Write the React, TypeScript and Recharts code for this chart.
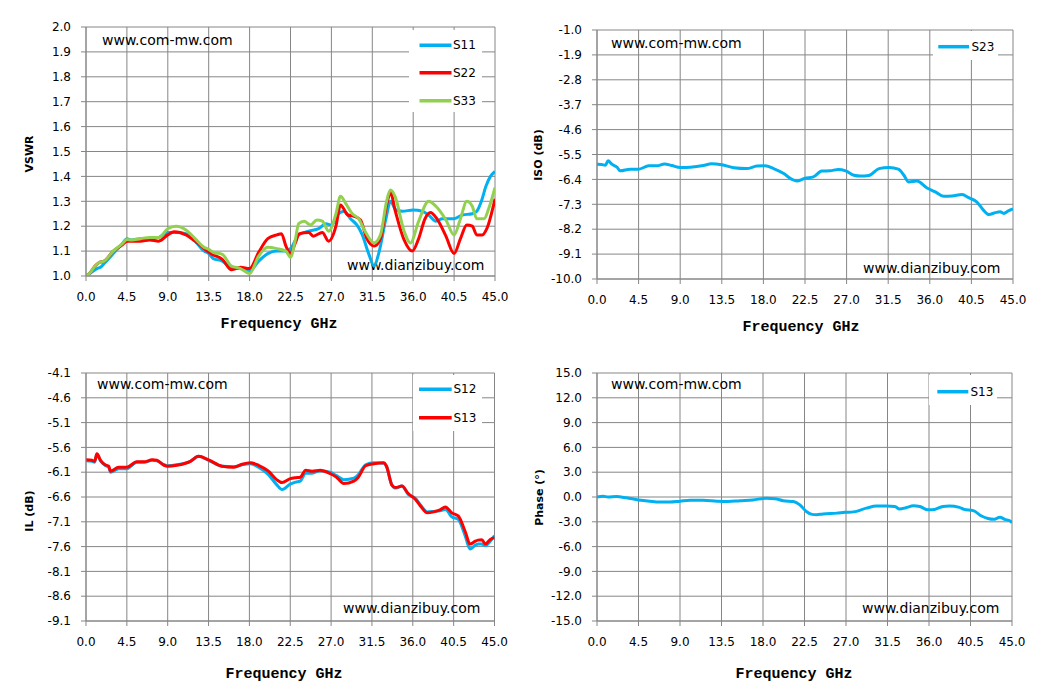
import React from "react";
import { LineChart, Line, XAxis, YAxis, CartesianGrid, Legend } from "recharts";

// fonts / colours picked to match the Excel export
const SANS = '"DejaVu Sans", Verdana, sans-serif';
const MONO = '"Liberation Mono", "Courier New", monospace';
const GRID = "#868686";
const BLUE = "#00b0f0";
const RED = "#ff0000";
const GREEN = "#92d050";

// shared frequency axis
const freqTicks = [0, 4.5, 9, 13.5, 18, 22.5, 27, 31.5, 36, 40.5, 45];

// ---- VSWR ----
const vswrTicks = [1.0, 1.1, 1.2, 1.3, 1.4, 1.5, 1.6, 1.7, 1.8, 1.9, 2.0];
const s11Freq = [0, 0.5, 1.2, 1.6, 2, 3, 4, 4.5, 5, 6, 7, 8, 9, 10, 11, 12, 13, 13.5, 14, 15, 16, 17, 18, 19, 20, 21, 22, 22.5, 23.4, 24.5, 25.6, 26.4, 27, 27.8, 28.4, 29.1, 29.8, 30.4, 31.1, 31.7, 32.2, 33, 33.5, 34.1, 34.8, 36, 37, 37.7, 38.5, 39.2, 40.5, 41.4, 42.5, 43, 43.5, 44, 44.5, 45];
const s11 = [1.0, 1.012, 1.03, 1.035, 1.05, 1.09, 1.13, 1.15, 1.145, 1.15, 1.15, 1.155, 1.175, 1.175, 1.17, 1.14, 1.10, 1.09, 1.07, 1.06, 1.033, 1.03, 1.02, 1.06, 1.09, 1.10, 1.10, 1.11, 1.165, 1.18, 1.19, 1.21, 1.205, 1.25, 1.26, 1.23, 1.205, 1.165, 1.09, 1.04, 1.09, 1.23, 1.30, 1.265, 1.26, 1.265, 1.26, 1.245, 1.22, 1.23, 1.23, 1.245, 1.25, 1.26, 1.30, 1.36, 1.40, 1.42];
const s22Freq = [0, 0.5, 1, 1.5, 2, 3, 4, 4.5, 5, 6, 7, 8, 9, 9.7, 11, 12, 13, 13.5, 14, 15, 16, 16.5, 17, 18, 19, 20, 21, 21.5, 22, 22.5, 23, 23.5, 24.5, 25, 26, 26.7, 27.5, 28, 28.8, 29.5, 30.2, 30.9, 31.7, 32.4, 33.1, 33.5, 34, 35, 35.9, 36.6, 37.3, 37.9, 38.6, 39.6, 40.5, 41.2, 41.9, 42.5, 43, 43.6, 44.1, 45];
const s22 = [1.0, 1.015, 1.04, 1.055, 1.06, 1.10, 1.125, 1.14, 1.14, 1.14, 1.145, 1.14, 1.165, 1.178, 1.165, 1.14, 1.11, 1.096, 1.085, 1.067, 1.025, 1.03, 1.035, 1.03, 1.095, 1.15, 1.165, 1.17, 1.12, 1.09, 1.13, 1.17, 1.175, 1.16, 1.175, 1.14, 1.20, 1.285, 1.245, 1.24, 1.225, 1.15, 1.12, 1.15, 1.29, 1.335, 1.265, 1.145, 1.10, 1.15, 1.23, 1.255, 1.23, 1.16, 1.09, 1.15, 1.205, 1.20, 1.165, 1.165, 1.19, 1.31];
const s33Freq = [0, 0.5, 1, 1.5, 2, 3, 4, 4.5, 5, 6, 7, 8, 9, 9.9, 11, 12, 13, 13.5, 14, 15, 16, 17, 18, 19, 20, 21, 22, 22.5, 23, 23.4, 24, 24.7, 25.4, 26, 26.7, 27.5, 28, 28.6, 29.3, 30, 30.7, 31.7, 32.4, 33.1, 33.5, 34, 35, 35.7, 36.6, 37.7, 38.5, 39.6, 40.5, 41.2, 41.9, 42.5, 43, 43.8, 44.3, 45];
const s33 = [1.0, 1.015, 1.04, 1.055, 1.06, 1.10, 1.13, 1.147, 1.145, 1.15, 1.155, 1.155, 1.19, 1.20, 1.185, 1.15, 1.115, 1.107, 1.095, 1.087, 1.04, 1.03, 1.01, 1.08, 1.115, 1.11, 1.10, 1.075, 1.14, 1.21, 1.22, 1.205, 1.225, 1.22, 1.18, 1.25, 1.32, 1.29, 1.25, 1.23, 1.18, 1.133, 1.165, 1.305, 1.345, 1.32, 1.18, 1.133, 1.22, 1.30, 1.28, 1.225, 1.165, 1.23, 1.30, 1.28, 1.23, 1.23, 1.27, 1.355];

// ---- ISO ----
const isoTicks = [-10, -9.1, -8.2, -7.3, -6.4, -5.5, -4.6, -3.7, -2.8, -1.9, -1.0];
const isoFreq = [0, 0.5, 0.9, 1.2, 1.6, 2.2, 2.5, 3.6, 4.5, 5.6, 6.5, 7.3, 8.1, 9, 10.1, 11.5, 12.4, 13.5, 14.8, 16.2, 17.3, 18.2, 19.1, 20.2, 21.1, 21.6, 22.5, 23.4, 24.3, 25.2, 26.1, 26.9, 27.8, 28.5, 29.4, 30.5, 31.6, 32.6, 33.2, 33.7, 34.6, 35.7, 36.6, 37.5, 38.4, 39.5, 40.2, 41.1, 41.8, 42.4, 43.1, 43.6, 44, 44.5, 45];
const s23 = [-5.85, -5.86, -5.89, -5.73, -5.85, -5.97, -6.09, -6.03, -6.03, -5.91, -5.91, -5.84, -5.9, -5.97, -5.96, -5.9, -5.83, -5.87, -5.98, -6.01, -5.92, -5.91, -6.01, -6.19, -6.4, -6.46, -6.36, -6.31, -6.1, -6.09, -6.04, -6.09, -6.25, -6.28, -6.26, -6.01, -5.97, -6.03, -6.25, -6.49, -6.46, -6.71, -6.85, -7.01, -7.0, -6.95, -7.06, -7.22, -7.51, -7.67, -7.6, -7.57, -7.63, -7.54, -7.47];

// ---- IL ----
const ilTicks = [-9.1, -8.6, -8.1, -7.6, -7.1, -6.6, -6.1, -5.6, -5.1, -4.6, -4.1];
const ilFreq = [0, 0.66, 0.95, 1.2, 1.6, 2.1, 2.5, 2.7, 3.6, 4.5, 5.6, 6.4, 7.3, 7.8, 8.6, 9, 10, 11.5, 12.4, 13.5, 15, 16.3, 17.2, 18.1, 19, 20.1, 21, 21.6, 22.5, 23.1, 23.6, 24.2, 24.9, 25.8, 26.9, 27.6, 28.4, 29.5, 30, 30.8, 31.7, 32.8, 33.1, 33.7, 34.1, 34.8, 35.5, 36.3, 36.8, 37.6, 38.3, 39, 39.6, 40.3, 41, 41.8, 42.3, 42.9, 43.2, 43.6, 44, 44.5, 45];
const s12 = [-5.87, -5.88, -5.9, -5.74, -5.87, -5.96, -6.0, -6.1, -6.03, -6.03, -5.9, -5.9, -5.86, -5.87, -5.95, -5.97, -5.95, -5.88, -5.78, -5.86, -5.98, -5.99, -5.95, -5.93, -6.0, -6.15, -6.35, -6.45, -6.34, -6.3, -6.28, -6.12, -6.12, -6.07, -6.1, -6.17, -6.25, -6.22, -6.15, -5.95, -5.91, -5.92, -5.98, -6.36, -6.42, -6.38, -6.55, -6.63, -6.75, -6.9, -6.89, -6.88, -6.85, -7.0, -7.05, -7.4, -7.65, -7.57, -7.55, -7.55, -7.58, -7.5, -7.38];
const s13il = [-5.85, -5.86, -5.88, -5.73, -5.86, -5.95, -5.98, -6.08, -6.0, -6.0, -5.89, -5.89, -5.85, -5.86, -5.96, -5.98, -5.96, -5.88, -5.78, -5.85, -5.98, -6.0, -5.94, -5.91, -5.96, -6.08, -6.25, -6.31, -6.23, -6.21, -6.2, -6.06, -6.08, -6.06, -6.13, -6.2, -6.33, -6.28, -6.2, -5.97, -5.93, -5.91, -5.98, -6.36, -6.41, -6.38, -6.53, -6.65, -6.77, -6.92, -6.9, -6.86, -6.8, -6.92, -6.98, -7.31, -7.55, -7.49, -7.47, -7.46, -7.55, -7.46, -7.42];

// ---- Phase ----
const phaseTicks = [-15, -12, -9, -6, -3, 0, 3, 6, 9, 12, 15];
const phaseFreq = [0, 0.65, 1.2, 2.1, 3.2, 4.5, 5.7, 6.8, 7.9, 9, 10.1, 11.5, 13, 14.2, 15.5, 16.9, 18.4, 19.3, 20.2, 21.3, 22, 22.7, 23.3, 23.8, 24.5, 26, 26.9, 27.8, 29.2, 30.3, 31.4, 32.3, 32.8, 33.5, 34.3, 35, 35.9, 36.6, 37.5, 38.2, 39.3, 39.8, 40.8, 41.7, 42.4, 43, 43.7, 44.2, 44.8, 45];
const s13ph = [0.0, 0.1, 0.0, 0.05, -0.1, -0.35, -0.5, -0.6, -0.6, -0.5, -0.4, -0.38, -0.5, -0.55, -0.45, -0.35, -0.15, -0.2, -0.45, -0.55, -0.95, -1.75, -2.1, -2.15, -2.05, -1.95, -1.85, -1.8, -1.35, -1.1, -1.1, -1.15, -1.45, -1.3, -1.05, -1.15, -1.55, -1.5, -1.15, -1.1, -1.25, -1.5, -1.65, -2.3, -2.6, -2.7, -2.45, -2.7, -2.9, -3.1];

type Pt = { f: number; v: number };
type SeriesDef = { name: string; color: string; data: Pt[] };
type Rect = { l: number; t: number; w: number; h: number };
type LegendDef = Rect & { rows: number[]; x1: number; x2: number; tx: number };

const pts = (freq: number[], vals: number[]): Pt[] => freq.map((f, i) => ({ f, v: vals[i] }));
const fmt = (v: number) => v.toFixed(1);

const tickStyle = { fill: "#000", fontSize: 12, fontFamily: SANS };

function LegendBox({ payload, def }: { payload?: any[]; def: LegendDef }) {
  const items = payload || [];
  return (
    <svg width={def.w} height={def.h} style={{ display: "block" }}>
      <rect width={def.w} height={def.h} fill="#fff" />
      {items.map((e, i) => (
        <g key={e.value}>
          <line x1={def.x1 - def.l} x2={def.x2 - def.l} y1={def.rows[i] - def.t} y2={def.rows[i] - def.t} stroke={e.color} strokeWidth={3.5} />
          <text x={def.tx - def.l} y={def.rows[i] - def.t} dominantBaseline="central" fontSize={12} fontFamily={SANS} fill="#000">
            {e.value}
          </text>
        </g>
      ))}
    </svg>
  );
}

type PanelProps = {
  box: Rect;
  plot: { l: number; t: number; r: number; b: number };
  yDomain: [number, number];
  yTicks: number[];
  yTitle: string;
  yTitleAt: [number, number];
  xTitleAt: [number, number];
  series: SeriesDef[];
  legend: LegendDef;
  marks: [[number, number], [number, number]];
};

function Panel({ box, plot, yDomain, yTicks, yTitle, yTitleAt, xTitleAt, series, legend, marks }: PanelProps) {
  const xh = 30;
  const margin = {
    top: plot.t - box.t,
    right: box.l + box.w - plot.r,
    left: 0,
    bottom: box.t + box.h - plot.b - xh,
  };
  const ox = box.l;
  const oy = box.t;
  return (
    <div style={{ position: "absolute", left: box.l, top: box.t }}>
      <LineChart width={box.w} height={box.h} margin={margin}>
        <CartesianGrid stroke={GRID} />
        <XAxis
          type="number"
          dataKey="f"
          domain={[0, 45]}
          ticks={freqTicks}
          interval={0}
          tickFormatter={fmt}
          tickSize={5}
          tickMargin={11}
          height={xh}
          stroke={GRID}
          tick={tickStyle}
          allowDataOverflow
        />
        <YAxis
          type="number"
          domain={yDomain}
          ticks={yTicks}
          interval={0}
          tickFormatter={fmt}
          width={plot.l - box.l}
          tickSize={5}
          tickMargin={10}
          stroke={GRID}
          tick={tickStyle}
          allowDataOverflow
        />
        {series.map((s) => (
          <Line
            key={s.name}
            data={s.data}
            dataKey="v"
            name={s.name}
            type="monotone"
            stroke={s.color}
            strokeWidth={3}
            dot={false}
            activeDot={false}
            isAnimationActive={false}
          />
        ))}
        <Legend
          layout="horizontal"
          verticalAlign="middle"
          align="center"
          wrapperStyle={{ left: legend.l - ox, top: legend.t - oy, width: legend.w, height: legend.h }}
          content={(p: any) => <LegendBox payload={p.payload} def={legend} />}
        />
        <text x={marks[0][0] - ox} y={marks[0][1] - oy} fontSize={14} fontFamily={SANS} fill="#000">
          www.com-mw.com
        </text>
        <text x={marks[1][0] - ox} y={marks[1][1] - oy} fontSize={14} fontFamily={SANS} fill="#000">
          www.dianzibuy.com
        </text>
        <text
          x={yTitleAt[0] - ox}
          y={yTitleAt[1] - oy}
          transform={`rotate(-90 ${yTitleAt[0] - ox} ${yTitleAt[1] - oy})`}
          textAnchor="middle"
          fontSize={11}
          fontWeight="bold"
          fontFamily={SANS}
          fill="#000"
        >
          {yTitle}
        </text>
        <text x={xTitleAt[0] - ox} y={xTitleAt[1] - oy} textAnchor="middle" fontSize={15} fontWeight="bold" fontFamily={MONO} fill="#000">
          Frequency GHz
        </text>
      </LineChart>
    </div>
  );
}

export default function App() {
  return (
    <div style={{ position: "absolute", left: 0, top: 0, width: 1043, height: 699, background: "#fff" }}>
      <Panel
        box={{ l: 0, t: 0, w: 521, h: 349 }}
        plot={{ l: 86, t: 27, r: 495, b: 276 }}
        yDomain={[1, 2]}
        yTicks={vswrTicks}
        yTitle="VSWR"
        yTitleAt={[33, 154]}
        xTitleAt={[279, 328]}
        series={[
          { name: "S11", color: BLUE, data: pts(s11Freq, s11) },
          { name: "S22", color: RED, data: pts(s22Freq, s22) },
          { name: "S33", color: GREEN, data: pts(s33Freq, s33) },
        ]}
        legend={{ l: 409, t: 30, w: 73, h: 82, rows: [45.3, 72.7, 100.7], x1: 419.5, x2: 451.5, tx: 453 }}
        marks={[[102, 45], [347, 269.5]]}
      />
      <Panel
        box={{ l: 521, t: 0, w: 522, h: 349 }}
        plot={{ l: 597, t: 30, r: 1013, b: 279 }}
        yDomain={[-10, -1]}
        yTicks={isoTicks}
        yTitle="ISO (dB)"
        yTitleAt={[542, 155]}
        xTitleAt={[801, 331]}
        series={[{ name: "S23", color: BLUE, data: pts(isoFreq, s23) }]}
        legend={{ l: 933, t: 31, w: 65, h: 29, rows: [46.7], x1: 938.3, x2: 969, tx: 971.5 }}
        marks={[[611, 47.5], [863, 272.5]]}
      />
      <Panel
        box={{ l: 0, t: 349, w: 521, h: 350 }}
        plot={{ l: 86, t: 373, r: 494.5, b: 621 }}
        yDomain={[-9.1, -4.1]}
        yTicks={ilTicks}
        yTitle="IL (dB)"
        yTitleAt={[33, 511]}
        xTitleAt={[284, 678]}
        series={[
          { name: "S12", color: BLUE, data: pts(ilFreq, s12) },
          { name: "S13", color: RED, data: pts(ilFreq, s13il) },
        ]}
        legend={{ l: 413, t: 375, w: 69, h: 56, rows: [389.3, 417.7], x1: 419, x2: 451.7, tx: 453.5 }}
        marks={[[97, 389], [343, 612.5]]}
      />
      <Panel
        box={{ l: 521, t: 349, w: 522, h: 350 }}
        plot={{ l: 597, t: 373, r: 1012, b: 621 }}
        yDomain={[-15, 15]}
        yTicks={phaseTicks}
        yTitle="Phase (°)"
        yTitleAt={[542.5, 497.5]}
        xTitleAt={[794, 678]}
        series={[{ name: "S13", color: BLUE, data: pts(phaseFreq, s13ph) }]}
        legend={{ l: 929, t: 375, w: 68, h: 30, rows: [391.7], x1: 937.3, x2: 968.3, tx: 970.5 }}
        marks={[[611, 389], [862, 612.5]]}
      />
    </div>
  );
}
